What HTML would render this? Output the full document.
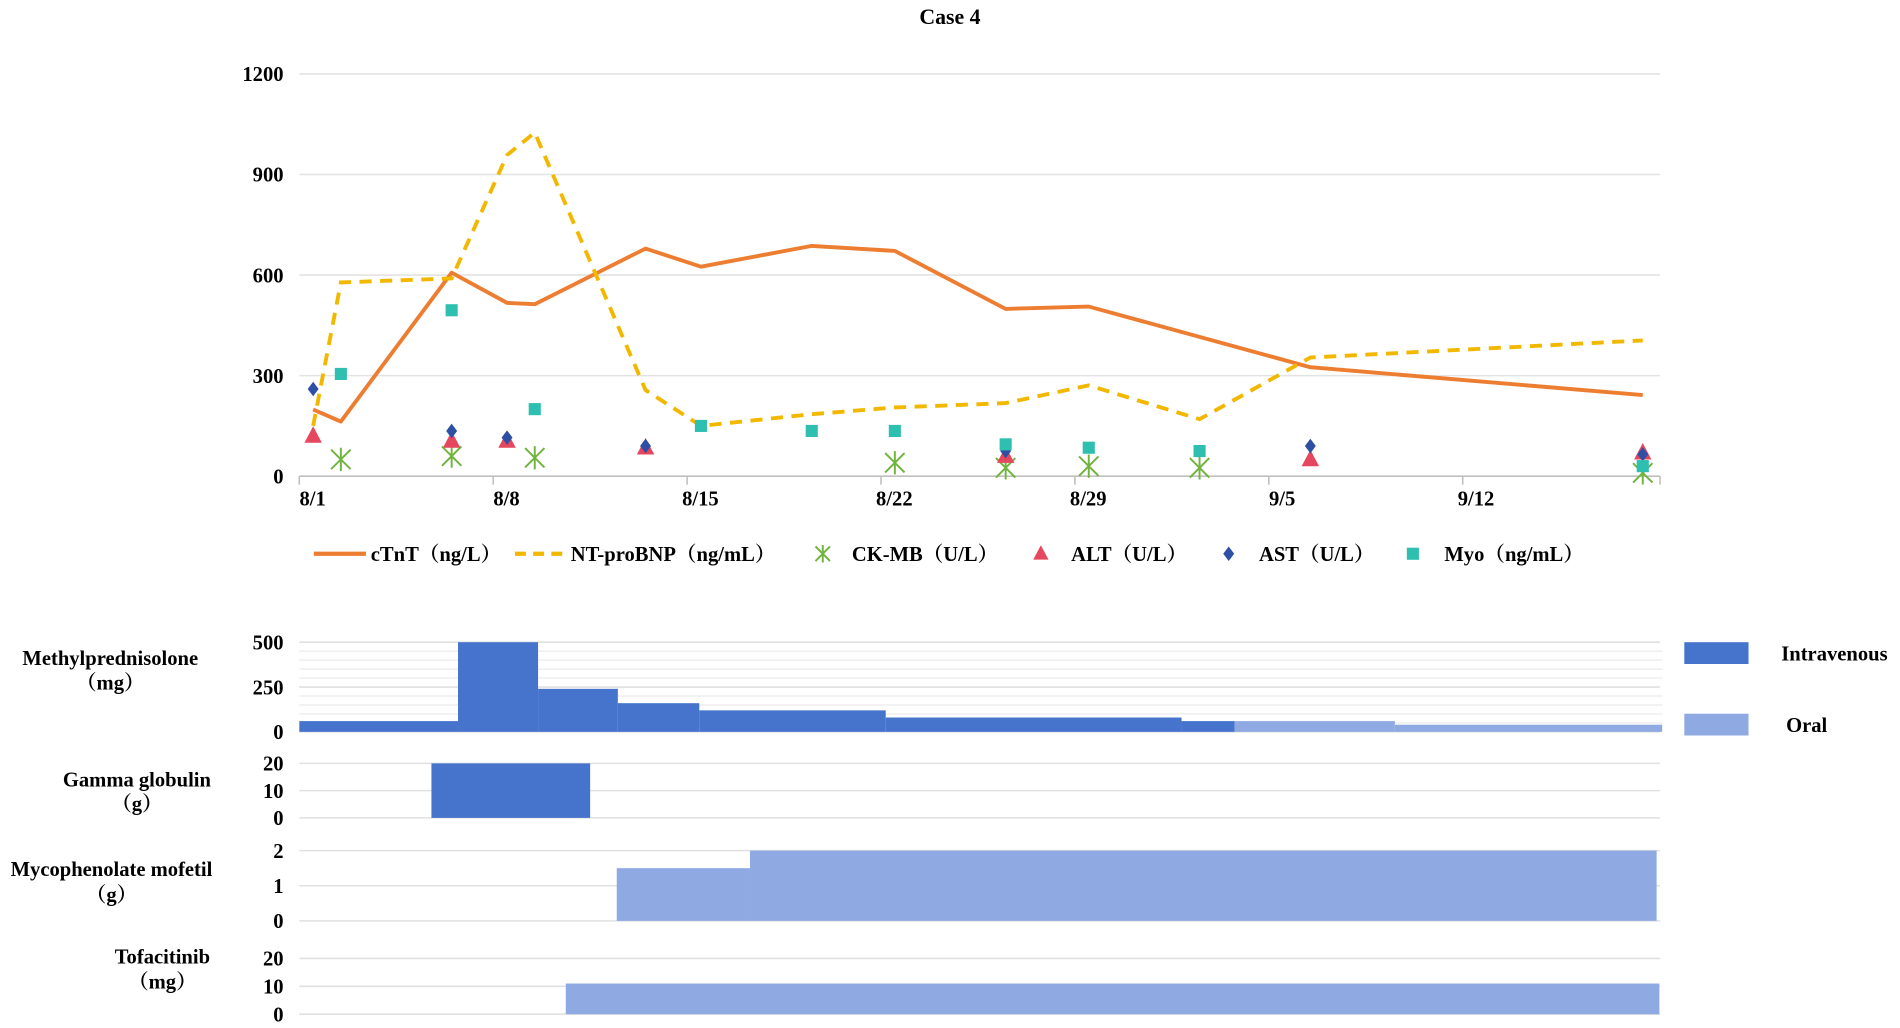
<!DOCTYPE html>
<html><head><meta charset="utf-8">
<style>
html,body{margin:0;padding:0;background:#fff;}
svg{display:block;}
text{font-family:"Liberation Serif","Noto Serif CJK SC",serif;font-weight:bold;fill:#000;}
</style></head>
<body>
<svg id="chart" width="1900" height="1028" viewBox="0 0 1568 848.4" preserveAspectRatio="none" xmlns="http://www.w3.org/2000/svg">
<text x="784" y="20" text-anchor="middle" font-size="18">Case 4</text>
<g id="topPlot"></g>
<g id="bottomPlot"></g>
</svg>
<script>
// ---- lab data (day index from 8/1) ----
const yTicks = [0,300,600,900,1200];
const xTickLabels = ['8/1','8/8','8/15','8/22','8/29','9/5','9/12'];
const ctntDays = [0.5,1.5,5.5,7.5,8.5,12.5,14.5,18.5,21.5,25.5,28.5,36.5,48.5];
const ctntVals = [199,163,607,517,513,679,625,687,672,499,506,325,242];
const bnpDays = [0.5,1.5,5.5,7.5,8.5,12.5,14.5,18.5,21.5,25.5,28.5,32.5,36.5,48.5];
const bnpVals = [150,578,590,958,1025,257,150,185,205,218,271,170,354,405];
const ckmbDays = [1.5,5.5,8.5,21.5,25.5,28.5,32.5,48.5];
const ckmbVals = [50,60,55,40,25,30,25,10];
const altDays = [0.5,5.5,7.5,12.5,25.5,36.5,48.5];
const altVals = [120,105,105,85,60,50,70];
const astDays = [0.5,5.5,7.5,12.5,25.5,36.5,48.5];
const astVals = [260,135,115,90,75,90,65];
const myoDays = [1.5,5.5,8.5,14.5,18.5,21.5,25.5,28.5,32.5,48.5];
const myoVals = [305,495,200,150,135,135,95,85,75,30];
// ---- treatment data: [startDay, endDay, value] ----
const mpIV = [[0,5.73,60],[5.73,8.62,500],[8.62,11.5,240],[11.5,14.44,160],[14.44,21.17,120],[21.17,31.85,80],[31.85,33.77,60]];
const mpOral = [[33.77,39.55,60],[39.55,49.2,40]];
const ggIV = [[4.77,10.5,20]];
const mmfOral = [[11.46,16.27,1.5],[16.27,49.0,2]];
const tofaOral = [[9.62,49.1,11]];

const NS='http://www.w3.org/2000/svg';
const FS=17;
function mk(parent,tag,attrs,txt){const e=document.createElementNS(NS,tag);for(const k in attrs)e.setAttribute(k,attrs[k]);if(txt!==undefined)e.textContent=txt;parent.appendChild(e);return e;}
const X0=247, DX=22.86;
function xs(d){return X0+d*DX;}
function ys(v){return 393-v*(332/1200);}
const topG=document.getElementById('topPlot');
yTicks.forEach(t=>{
  const l=mk(topG,'line',{x1:247,x2:1370,y1:ys(t),y2:ys(t),stroke:t===0?'#bfbfbf':'#e3e3e3','stroke-width':1.3});
  
  
  const tx=mk(topG,'text',{x:234,y:ys(t)+6,'text-anchor':'end','font-size':FS},t);
  
  
});
xTickLabels.forEach((lab,i)=>{
  const x=xs(i*7);
  const tk=mk(topG,'line',{x1:x,x2:x,y1:393,y2:400,stroke:'#bfbfbf','stroke-width':1.3});
  
  
  const tx=mk(topG,'text',{x:x+11,y:417,'text-anchor':'middle','font-size':FS},lab);
  
  
});
mk(topG,'line',{x1:1370,x2:1370,y1:393,y2:400,stroke:'#bfbfbf','stroke-width':1.3});
function pts(ds,vs){return ds.map((d,i)=>xs(d)+','+ys(vs[i])).join(' ');}
const cl=mk(topG,'polyline',{points:pts(ctntDays,ctntVals),fill:'none',stroke:'#ed7d31','stroke-width':3.2,'stroke-linejoin':'round'});


const bl=mk(topG,'polyline',{points:pts(bnpDays,bnpVals),fill:'none',stroke:'#f2b800','stroke-width':3.2,'stroke-dasharray':'10,7'});


function star(g,x,y,s){mk(g,'path',{d:`M${x-s} ${y-s}L${x+s} ${y+s}M${x-s} ${y+s}L${x+s} ${y-s}M${x} ${y-s*1.2}L${x} ${y+s*1.2}`,stroke:'#70b33d','stroke-width':1.6,fill:'none'});}
function tri(g,x,y,s){mk(g,'path',{d:`M${x} ${y-s}L${x+s*0.9} ${y+s*0.7}L${x-s*0.9} ${y+s*0.7}Z`,fill:'#e4475e'});}
function dia(g,x,y,s){mk(g,'path',{d:`M${x} ${y-s}L${x+s*0.75} ${y}L${x} ${y+s}L${x-s*0.75} ${y}Z`,fill:'#2e4fa3'});}
function sq(g,x,y,s){mk(g,'rect',{x:x-s,y:y-s,width:2*s,height:2*s,fill:'#2ebfb0'});}
function series(name,ds,vs,fn,s){const g=mk(topG,'g',{});ds.forEach((d,i)=>fn(g,xs(d),ys(vs[i]),s));}
series('ckmb-points',ckmbDays,ckmbVals,star,8);
series('alt-points',altDays,altVals,tri,8);
series('ast-points',astDays,astVals,dia,6);
series('myo-points',myoDays,myoVals,sq,5);
const lg=mk(topG,'g',{});


const LY=457;
mk(lg,'line',{x1:259,x2:302,y1:LY,y2:LY,stroke:'#ed7d31','stroke-width':3.5});
mk(lg,'text',{x:306,y:LY+6,'font-size':FS},'cTnT（ng/L）');
mk(lg,'line',{x1:425,x2:468,y1:LY,y2:LY,stroke:'#f2b800','stroke-width':3.5,'stroke-dasharray':'9,6'});
mk(lg,'text',{x:471,y:LY+6,'font-size':FS},'NT-proBNP（ng/mL）');
star(lg,679,LY,6);mk(lg,'text',{x:703,y:LY+6,'font-size':FS},'CK-MB（U/L）');
tri(lg,859,LY,7);mk(lg,'text',{x:884,y:LY+6,'font-size':FS},'ALT（U/L）');
dia(lg,1014,LY,6);mk(lg,'text',{x:1039,y:LY+6,'font-size':FS},'AST（U/L）');
sq(lg,1166,LY,5);mk(lg,'text',{x:1192,y:LY+6,'font-size':FS},'Myo（ng/mL）');

const bot=document.getElementById('bottomPlot');
const IV='#4674cc', OR='#8faae2';
function panel(name,y0,yTop,vmax,ticks,minor,ser,labels,lx){
  const g=mk(bot,'g',{});
  
  
  const yv=v=>y0-(v/vmax)*(y0-yTop);
  minor.forEach(v=>mk(g,'line',{x1:247,x2:1372,y1:yv(v),y2:yv(v),stroke:'#eeeeee','stroke-width':1.2}));
  ticks.forEach(v=>{mk(g,'line',{x1:247,x2:1370,y1:yv(v),y2:yv(v),stroke:'#e0e0e0','stroke-width':1.3});
    const t=mk(g,'text',{x:234,y:yv(v)+6,'text-anchor':'end','font-size':FS},v);
    
    });
  ser.forEach(([arr,col])=>arr.forEach(([a,b,v])=>{const r=mk(g,'rect',{x:xs(a),y:yv(v),width:xs(b)-xs(a),height:y0-yv(v),fill:col});
    
    }));
  labels.forEach(([t,yy])=>mk(g,'text',{x:lx,y:yy,'text-anchor':'middle','font-size':FS},t));
}
panel('methylprednisolone-panel',604,530,500,[0,250,500],[50,100,150,200,300,350,400,450],[[mpIV,IV],[mpOral,OR]],[['Methylprednisolone',549],['（mg）',569]],91);
panel('gamma-globulin-panel',675,630,20,[0,10,20],[],[[ggIV,IV]],[['Gamma globulin',649],['（g）',669]],113);
panel('mycophenolate-panel',760,702,2,[0,1,2],[],[[mmfOral,OR]],[['Mycophenolate mofetil',723],['（g）',744]],92);
panel('tofacitinib-panel',837,791,20,[0,10,20],[],[[tofaOral,OR]],[['Tofacitinib',795],['（mg）',816]],134);
const tl=mk(bot,'g',{});


mk(tl,'rect',{x:1390,y:530,width:53,height:18,fill:IV});
mk(tl,'text',{x:1470,y:545,'font-size':FS},'Intravenous');
mk(tl,'rect',{x:1390,y:589,width:53,height:18,fill:OR});
mk(tl,'text',{x:1474,y:604,'font-size':FS},'Oral');
</script>
</body></html>
